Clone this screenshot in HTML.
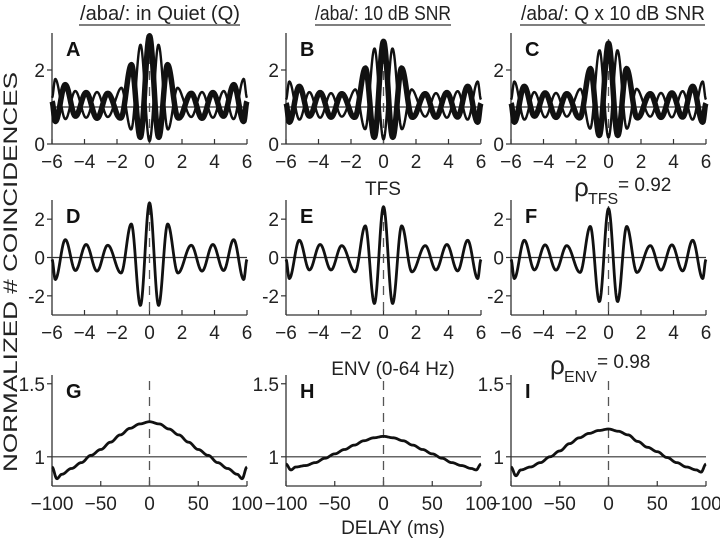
<!DOCTYPE html>
<html><head><meta charset="utf-8">
<style>
html,body{margin:0;padding:0;background:#fff;}
svg{display:block;font-family:"Liberation Sans","DejaVu Sans",sans-serif;}
</style></head>
<body>
<svg id="fig" width="720" height="538" viewBox="0 0 720 538" xmlns="http://www.w3.org/2000/svg">
  <g font-size="20" fill="#222" text-anchor="middle">
    <text x="160" y="20" textLength="160" lengthAdjust="spacingAndGlyphs">/aba/: in Quiet (Q)</text>
    <line x1="79" y1="25" x2="240" y2="25" stroke="#555" stroke-width="1.5"/>
    <text x="383" y="20" textLength="136" lengthAdjust="spacingAndGlyphs">/aba/: 10 dB SNR</text>
    <line x1="315" y1="25" x2="451" y2="25" stroke="#555" stroke-width="1.5"/>
    <text x="613" y="20" textLength="184" lengthAdjust="spacingAndGlyphs">/aba/: Q x 10 dB SNR</text>
    <line x1="520" y1="25" x2="705" y2="25" stroke="#555" stroke-width="1.5"/>
  </g>
  <text x="0" y="0" transform="translate(17,272) rotate(-90)" text-anchor="middle" font-size="19" textLength="400" lengthAdjust="spacingAndGlyphs" fill="#222">NORMALIZED # COINCIDENCES</text>
  <text x="393" y="534" text-anchor="middle" font-size="19" fill="#222">DELAY (ms)</text>
  <text x="383" y="195" text-anchor="middle" font-size="19" fill="#222">TFS</text>
  <text x="393" y="375" text-anchor="middle" font-size="19" fill="#222">ENV (0-64 Hz)</text>
  <g fill="#222">
    <text x="574" y="196" font-size="26">ρ</text>
    <text x="588" y="204" font-size="16">TFS</text>
    <text x="618" y="191" font-size="19">= 0.92</text>
  </g>
  <g fill="#222">
    <text x="550" y="374" font-size="26">ρ</text>
    <text x="564" y="382" font-size="16">ENV</text>
    <text x="597" y="368" font-size="19">= 0.98</text>
  </g>
  <g id="panels"></g>
</svg>
<script>
// ---- TFS data (extrema of difference correlograms), delays in ms ----
const tfsDelays = [-6,-5.8,-5.18,-4.56,-3.9,-3.23,-2.57,-1.75,-1.12,-0.56,0,0.56,1.12,1.75,2.57,3.23,3.9,4.56,5.18,5.8,6];
const tfsD = [-0.1,-1.15,0.93,-0.68,0.68,-0.71,0.64,-0.81,1.75,-2.5,2.85,-2.5,1.75,-0.81,0.64,-0.71,0.68,-0.68,0.93,-1.15,-0.1];
const tfsE = [-0.1,-1.1,0.9,-0.65,0.68,-0.65,0.62,-0.75,1.65,-2.4,2.65,-2.4,1.65,-0.75,0.62,-0.65,0.68,-0.7,0.9,-1.1,-0.1];
const tfsF = [-0.1,-1.1,0.9,-0.65,0.66,-0.66,0.62,-0.78,1.62,-2.3,2.55,-2.3,1.62,-0.78,0.62,-0.66,0.66,-0.7,0.9,-1.1,-0.1];
// ---- baseline (mean) of correlogram / anticorrelogram for top row ----
const baseDelays = [-6,-4,-2,-1,-0.5,0,0.5,1,2,4,6];
const baseA = [1.2,1.05,1.05,1.3,1.45,1.5,1.45,1.3,1.05,1.05,1.2];
const baseB = [1.15,1.05,1.05,1.25,1.4,1.45,1.4,1.25,1.05,1.05,1.15];
const baseC = [1.15,1.05,1.05,1.25,1.4,1.45,1.4,1.25,1.05,1.05,1.15];
// ---- ENV data ----
const envDelays = [-100,-95,-90,-80,-70,-60,-50,-40,-30,-20,-10,0,10,20,30,40,50,60,70,80,90,95,100];
const envG = [0.93,0.85,0.88,0.92,0.96,1.01,1.05,1.10,1.15,1.195,1.225,1.24,1.225,1.19,1.15,1.10,1.05,1.01,0.96,0.92,0.88,0.85,0.93];
const envH = [0.95,0.91,0.93,0.94,0.96,0.99,1.02,1.05,1.08,1.11,1.13,1.14,1.13,1.11,1.08,1.05,1.02,0.99,0.96,0.94,0.92,0.91,0.95];
const envI = [0.93,0.87,0.91,0.93,0.96,1.00,1.04,1.09,1.13,1.16,1.18,1.19,1.175,1.15,1.105,1.065,1.035,0.995,0.96,0.93,0.91,0.895,0.95];
const tfsTicks = [-6,-4,-2,0,2,4,6];
const envTicks = [-100,-50,0,50,100];
const row1YTicks = [0,2];
const row2YTicks = [-2,0,2];
const row3YTicks = [1,1.5];

const NS = "http://www.w3.org/2000/svg";
const root = document.getElementById('panels');
function mk(tag, attrs, parent){ const e=document.createElementNS(NS,tag); for(const k in attrs) e.setAttribute(k,attrs[k]); (parent||root).appendChild(e); return e; }

function interp(xs, ys, x){
  if(x<=xs[0]) return ys[0];
  for(let i=0;i<xs.length-1;i++){
    if(x<=xs[i+1]){ const t=(x-xs[i])/(xs[i+1]-xs[i]); const m=(1-Math.cos(Math.PI*t))/2; return ys[i]*(1-m)+ys[i+1]*m; }
  }
  return ys[ys.length-1];
}
function linInterp(xs, ys, x){
  if(x<=xs[0]) return ys[0];
  for(let i=0;i<xs.length-1;i++){ if(x<=xs[i+1]){ const t=(x-xs[i])/(xs[i+1]-xs[i]); return ys[i]*(1-t)+ys[i+1]*t; } }
  return ys[ys.length-1];
}

function panel(cfg){
  const g = mk('g',{});
  
  
  const sx = v => cfg.x0 + (v-cfg.xmin)/(cfg.xmax-cfg.xmin)*cfg.w;
  const sy = v => cfg.yb - (v-cfg.ymin)/(cfg.ymax-cfg.ymin)*cfg.h;
  const ya = mk('line',{x1:cfg.x0,y1:cfg.yb-cfg.h,x2:cfg.x0,y2:cfg.yb,stroke:'#333','stroke-width':1.3},g);
  
  
  const xa = mk('line',{x1:cfg.x0,y1:cfg.yb,x2:cfg.x0+cfg.w,y2:cfg.yb,stroke:'#333','stroke-width':1.3},g);
  
  
  cfg.xticks.forEach(t=>{
    mk('line',{x1:sx(t),y1:cfg.yb,x2:sx(t),y2:cfg.yb-5,stroke:'#333','stroke-width':1.2},g);
    const tx = mk('text',{x:sx(t),y:cfg.yb+24,'text-anchor':'middle','font-size':19,fill:'#222'},g);
    tx.textContent = (t<0?'\u2212'+(-t):String(t));
    
    
  });
  cfg.yticks.forEach(t=>{
    mk('line',{x1:cfg.x0-5,y1:sy(t),x2:cfg.x0,y2:sy(t),stroke:'#333','stroke-width':1.2},g);
    const tx = mk('text',{x:cfg.x0-7,y:sy(t)+7,'text-anchor':'end','font-size':19,fill:'#222'},g);
    tx.textContent = String(t);
    
    
  });
  const hl = mk('line',{x1:cfg.x0,y1:sy(cfg.ref),x2:cfg.x0+cfg.w,y2:sy(cfg.ref),stroke:'#333','stroke-width':1.2},g);
  
  
  const dl = mk('line',{x1:sx(0),y1:cfg.yb-cfg.h+6,x2:sx(0),y2:cfg.yb,stroke:'#555','stroke-width':1.3,'stroke-dasharray':'9,7'},g);
  
  
  cfg.series.forEach(s=>{
    let d='';
    const N=400;
    for(let i=0;i<=N;i++){
      const x = cfg.xmin + (cfg.xmax-cfg.xmin)*i/N;
      const y = s.f(x);
      d += (i?'L':'M')+sx(x).toFixed(2)+','+sy(y).toFixed(2);
    }
    const p = mk('path',{d:d,fill:'none',stroke:'#111','stroke-width':s.sw,'stroke-linejoin':'round'},g);
    
    
  });
  const lb = mk('text',{x:cfg.x0+14,y:cfg.yb-cfg.h+23,'font-size':20,'font-weight':'bold',fill:'#111'},g);
  lb.textContent = cfg.letter;
  
  
}

const cols = [52, 286, 511];
const tfsSets = [tfsD, tfsE, tfsF];
const baseSets = [baseA, baseB, baseC];
const envSets = [envG, envH, envI];
const L1 = ['A','B','C'], L2 = ['D','E','F'], L3 = ['G','H','I'];
for(let c=0;c<3;c++){
  const T = tfsSets[c], B = baseSets[c];
  panel({name:'panel-'+L1[c].toLowerCase(), letter:L1[c], x0:cols[c], w:195, yb:144, h:111, xmin:-6,xmax:6,ymin:0,ymax:3,
    xticks:tfsTicks, yticks:row1YTicks, ref:1,
    series:[
      {name:'anticorrelogram-thin', sw:2.4, f:x=>linInterp(baseDelays,B,x)-interp(tfsDelays,T,x)/2},
      {name:'correlogram-thick', sw:5.5, f:x=>linInterp(baseDelays,B,x)+interp(tfsDelays,T,x)/2}
    ]});
  panel({name:'panel-'+L2[c].toLowerCase(), letter:L2[c], x0:cols[c], w:195, yb:315, h:115, xmin:-6,xmax:6,ymin:-3,ymax:3,
    xticks:tfsTicks, yticks:row2YTicks, ref:0,
    series:[{name:'tfs-difcor', sw:2.8, f:x=>interp(tfsDelays,T,x)}]});
  const E = envSets[c];
  panel({name:'panel-'+L3[c].toLowerCase(), letter:L3[c], x0:cols[c], w:195, yb:486, h:111, xmin:-100,xmax:100,ymin:0.8,ymax:1.56,
    xticks:envTicks, yticks:row3YTicks, ref:1,
    series:[{name:'env-sumcor', sw:2.8, f:x=>interp(envDelays,E,x)}]});
}
</script>
</body></html>
